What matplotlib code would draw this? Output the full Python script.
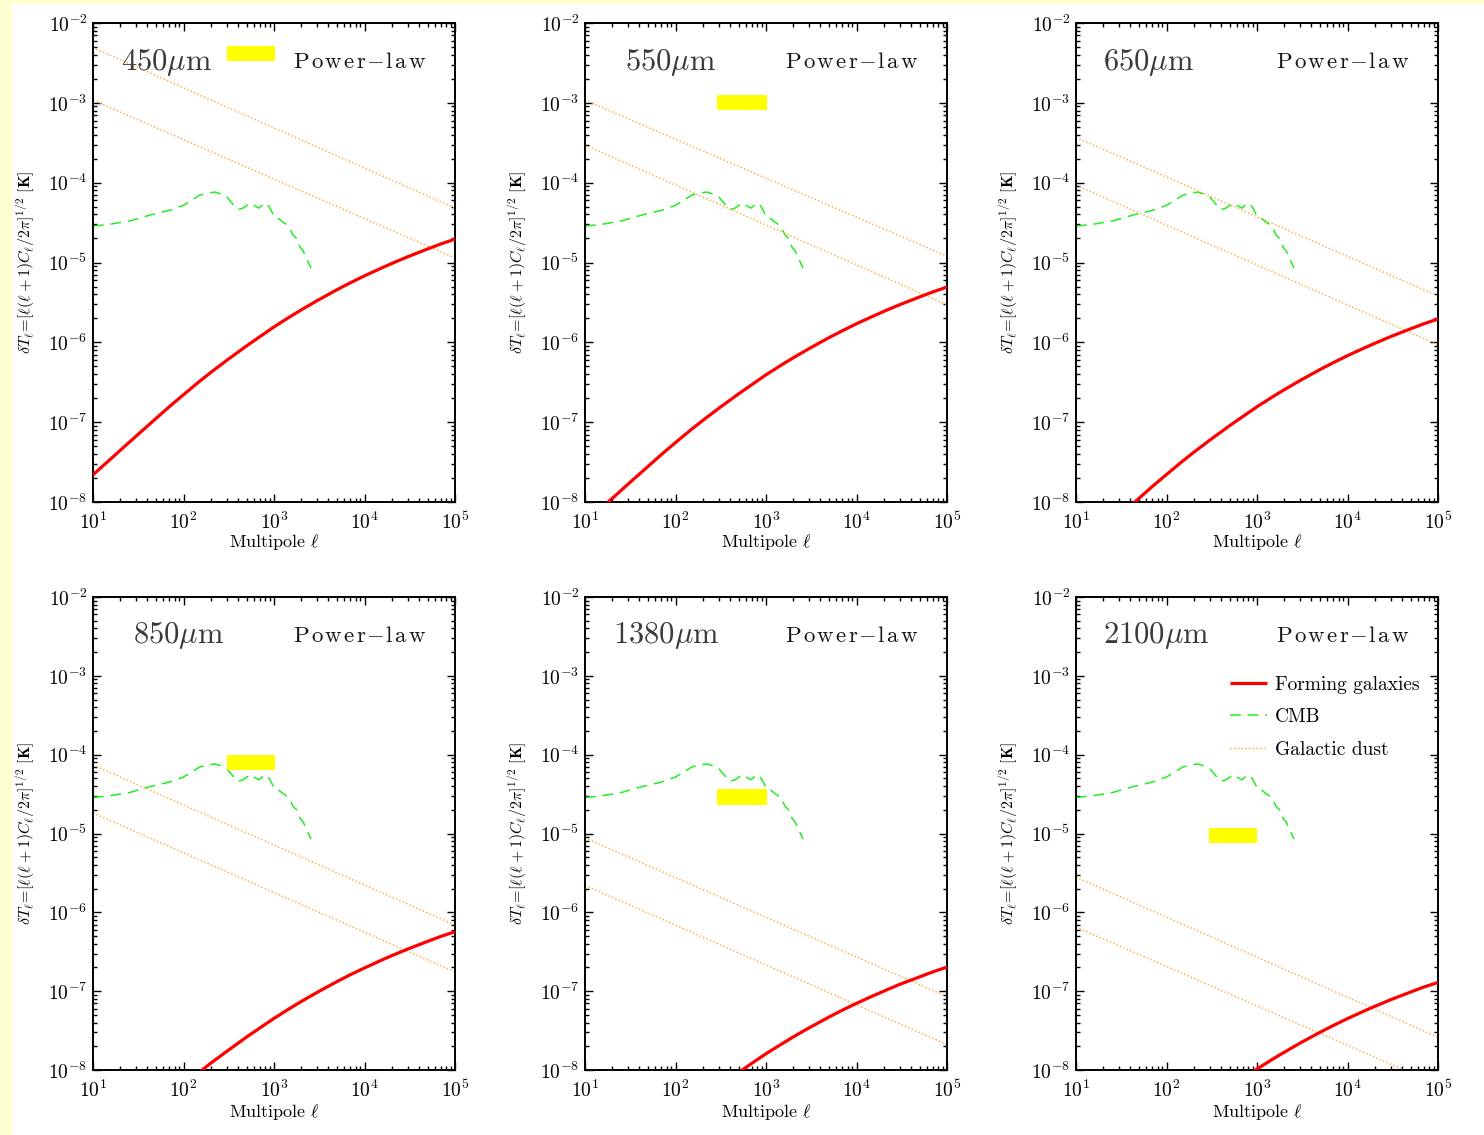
import numpy as np
import matplotlib
matplotlib.use("Agg")
import matplotlib.pyplot as plt
from matplotlib.patches import Rectangle
from matplotlib.ticker import LogLocator, NullFormatter

plt.rcParams.update({
    "font.family": "serif",
    "font.serif": ["cmr10", "DejaVu Serif"],
    "mathtext.fontset": "cm",
    "axes.formatter.use_mathtext": True,
    "axes.unicode_minus": False,
})

# ---- data -----------------------------------------------------------------
wavelengths = ["450", "550", "650", "850", "1380", "2100"]

# multipole grid for the forming-galaxy spectra
ell_gal = [10, 15, 20, 30, 50, 70, 100, 150, 200, 300, 500, 700, 1000, 1500,
           2000, 3000, 5000, 7000, 1e4, 1.5e4, 2e4, 3e4, 5e4, 7e4, 1e5]

# dT_l [K] of forming galaxies, one list per wavelength
gal_450 = [2.19e-8, 3.31e-8, 4.44e-8, 6.70e-8, 1.12e-7, 1.57e-7, 2.21e-7,
           3.24e-7, 4.19e-7, 5.94e-7, 9.06e-7, 1.18e-6, 1.56e-6, 2.09e-6,
           2.55e-6, 3.33e-6, 4.58e-6, 5.58e-6, 6.81e-6, 8.41e-6, 9.72e-6,
           1.18e-5, 1.48e-5, 1.71e-5, 1.96e-5]
gal_550 = [5.50e-9, 8.31e-9, 1.11e-8, 1.68e-8, 2.81e-8, 3.94e-8, 5.55e-8,
           8.13e-8, 1.05e-7, 1.49e-7, 2.27e-7, 2.96e-7, 3.92e-7, 5.25e-7,
           6.40e-7, 8.36e-7, 1.15e-6, 1.40e-6, 1.71e-6, 2.11e-6, 2.44e-6,
           2.96e-6, 3.71e-6, 4.29e-6, 4.92e-6]
gal_650 = [2.19e-9, 3.31e-9, 4.44e-9, 6.70e-9, 1.12e-8, 1.57e-8, 2.21e-8,
           3.24e-8, 4.19e-8, 5.94e-8, 9.06e-8, 1.18e-7, 1.56e-7, 2.09e-7,
           2.55e-7, 3.33e-7, 4.58e-7, 5.58e-7, 6.81e-7, 8.41e-7, 9.72e-7,
           1.18e-6, 1.48e-6, 1.71e-6, 1.96e-6]
gal_850 = [6.35e-10, 9.60e-10, 1.29e-9, 1.94e-9, 3.25e-9, 4.55e-9, 6.41e-9,
           9.40e-9, 1.22e-8, 1.72e-8, 2.63e-8, 3.42e-8, 4.52e-8, 6.06e-8,
           7.40e-8, 9.66e-8, 1.33e-7, 1.62e-7, 1.97e-7, 2.44e-7, 2.82e-7,
           3.42e-7, 4.29e-7, 4.96e-7, 5.68e-7]
gal_1380 = [2.26e-10, 3.41e-10, 4.57e-10, 6.90e-10, 1.15e-9, 1.62e-9, 2.28e-9,
            3.34e-9, 4.32e-9, 6.12e-9, 9.33e-9, 1.22e-8, 1.61e-8, 2.15e-8,
            2.63e-8, 3.43e-8, 4.72e-8, 5.75e-8, 7.01e-8, 8.66e-8, 1.00e-7,
            1.22e-7, 1.52e-7, 1.76e-7, 2.02e-7]
gal_2100 = [1.45e-10, 2.18e-10, 2.93e-10, 4.42e-10, 7.39e-10, 1.04e-9, 1.46e-9,
            2.14e-9, 2.77e-9, 3.92e-9, 5.98e-9, 7.79e-9, 1.03e-8, 1.38e-8,
            1.68e-8, 2.20e-8, 3.02e-8, 3.68e-8, 4.49e-8, 5.55e-8, 6.42e-8,
            7.79e-8, 9.77e-8, 1.13e-7, 1.29e-7]
galaxies = [gal_450, gal_550, gal_650, gal_850, gal_1380, gal_2100]

# CMB temperature spectrum dT_l [K]
ell_cmb = [10, 15, 25, 43, 70, 100, 152, 200, 223, 260, 302, 350, 400, 454,
           543, 600, 680, 795, 850, 903, 1026, 1150, 1256, 1350, 1430, 1520,
           1623, 1780, 1937, 2100, 2201, 2400, 2567]
dT_cmb = [2.86e-5, 3.0e-5, 3.3e-5, 3.94e-5, 4.5e-5, 5.2e-5, 7.0e-5, 7.5e-5,
          7.63e-5, 7.2e-5, 6.6e-5, 5.4e-5, 4.6e-5, 4.8e-5, 5.56e-5, 5.2e-5,
          4.8e-5, 5.56e-5, 5.3e-5, 4.8e-5, 3.6e-5, 3.5e-5, 3.2e-5, 3.05e-5,
          2.78e-5, 2.6e-5, 2.21e-5, 2.0e-5, 1.56e-5, 1.4e-5, 1.24e-5,
          1.0e-5, 8.5e-6]

# Galactic dust power laws: values at l = 10 and l = 1e5 (high / low)
ell_dust = [10, 1e5]
dust_high = [[4.9e-3, 4.8e-5], [1.08e-3, 1.2e-5], [3.7e-4, 3.8e-6],
             [7.4e-5, 6.9e-7], [8.8e-6, 8.5e-8], [2.8e-6, 2.6e-8]]
dust_low = [[1.08e-3, 1.14e-5], [2.96e-4, 2.95e-6], [9.3e-5, 9.3e-7],
            [1.82e-5, 1.75e-7], [2.2e-6, 2.1e-8], [6.5e-7, 6.5e-9]]

x_ticks = [1e1, 1e2, 1e3, 1e4, 1e5]
y_ticks = [1e-8, 1e-7, 1e-6, 1e-5, 1e-4, 1e-3, 1e-2]

# ---- layout ---------------------------------------------------------------
W, H = 1484, 1135
fig = plt.figure(figsize=(W / 100, H / 100), dpi=100)
fig.patch.set_facecolor("white")
fig.patches.append(Rectangle((0, 0), 11 / W, 1, transform=fig.transFigure,
                             color="#FFFFD4", zorder=-10))
fig.patches.append(Rectangle((0, 1 - 3 / H), 1, 3 / H, transform=fig.transFigure,
                             color="#FFFFD4", zorder=-10))

col_left = [93, 585, 1076]
row_box = [(23, 502), (597, 1070)]
ax_w = 362

label_x = [0.077, 0.110, 0.075, 0.110, 0.077, 0.075]
highlight = [(0.370, 0.921, 0.133, 0.031), (0.365, 0.818, 0.138, 0.032), None,
             (0.370, 0.634, 0.133, 0.032), (0.365, 0.560, 0.138, 0.034),
             (0.367, 0.480, 0.133, 0.032)]

spaced_power_law = (r"$\mathrm{P\hspace{0.12}o\hspace{0.12}w\hspace{0.12}e"
                    r"\hspace{0.12}r\hspace{0.06}{-}\hspace{0.06}l\hspace{0.12}a"
                    r"\hspace{0.12}w}$")

for i, wl in enumerate(wavelengths):
    r, c = divmod(i, 3)
    top, bot = row_box[r]
    ax = fig.add_axes([col_left[c] / W, 1 - bot / H, ax_w / W, (bot - top) / H])
    ax.set_xscale("log")
    ax.set_yscale("log")

    ax.plot(ell_gal, galaxies[i], color="red", lw=2.3, solid_capstyle="butt",
            solid_joinstyle="round", label="Forming galaxies", zorder=3)
    ax.plot(ell_cmb, dT_cmb, color="#22EE22", lw=1.1, linestyle=(0, (7, 4.5)),
            label="CMB", zorder=2)
    ax.plot(ell_dust, dust_high[i], color="#FFA530", lw=1.0, linestyle=":",
            label="Galactic dust", zorder=2)
    ax.plot(ell_dust, dust_low[i], color="#FFA530", lw=1.0, linestyle=":",
            zorder=2)

    ax.set_xticks(x_ticks)
    ax.set_yticks(y_ticks)
    ax.xaxis.set_minor_locator(LogLocator(base=10, subs=np.arange(2, 10), numticks=20))
    ax.yaxis.set_minor_locator(LogLocator(base=10, subs=np.arange(2, 10), numticks=20))
    ax.xaxis.set_minor_formatter(NullFormatter())
    ax.yaxis.set_minor_formatter(NullFormatter())
    ax.set_xlim(10, 1e5)
    ax.set_ylim(1e-8, 1e-2)

    ax.tick_params(which="both", direction="in", top=True, right=True,
                   labelsize=14, width=1.0)
    ax.tick_params(axis="x", which="major", pad=7)
    ax.tick_params(axis="y", which="major", pad=4)
    ax.tick_params(which="major", length=5.5)
    ax.tick_params(which="minor", length=2.8)
    for sp in ax.spines.values():
        sp.set_linewidth(1.4)

    ax.set_xlabel(r"Multipole $\ell$", fontsize=13)
    ax.set_ylabel(r"$\delta T_\ell\!=\![\ell(\ell+1)C_\ell/2\pi]^{1/2}$ $\mathbf{[K]}$",
                  fontsize=11.5)
    ax.xaxis.set_label_coords(0.5, -0.062 if r == 0 else -0.068)
    ax.yaxis.set_label_coords(-0.155, 0.5)

    ax.text(label_x[i], 0.918, wl + r"$\mu$m", transform=ax.transAxes,
            fontsize=22, color="#3a3a3a", va="center", ha="left")
    ax.text(0.552, 0.918, spaced_power_law, transform=ax.transAxes,
            fontsize=16.5, color="#151515", va="center", ha="left")

    if highlight[i] is not None:
        x0, y0, w, h = highlight[i]
        ax.add_patch(Rectangle((x0, y0), w, h, transform=ax.transAxes,
                               color="#FFFF00", zorder=6, lw=0))

    if i == 5:
        ax.legend(loc="upper left", bbox_to_anchor=((1230 - 1076) / ax_w, 0.834),
                  frameon=False, fontsize=14, borderpad=0, borderaxespad=0,
                  handlelength=1.9, handletextpad=0.41, labelspacing=0.76)

fig.savefig("out.png", dpi=100)
